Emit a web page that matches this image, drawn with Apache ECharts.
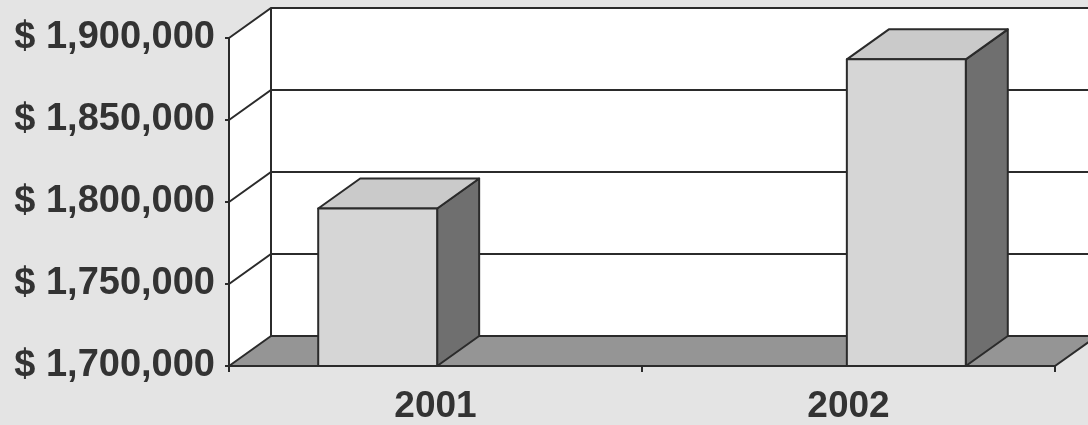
<!DOCTYPE html>
<html>
<head>
<meta charset="utf-8">
<script src="https://cdn.jsdelivr.net/npm/echarts@6/dist/echarts.min.js"></script>
<style>
  html, body { margin: 0; padding: 0; background: #e4e4e4; }
  #chart { width: 1088px; height: 425px; }
</style>
</head>
<body>
<div id="chart"></div>
<script>
// values
var years = ['2001', '2002'];
var revenue = [1796000, 1887000];
var yTicks = [1700000, 1750000, 1800000, 1850000, 1900000];

// 3d look
var depthX = 42, depthY = -30;
var spread = 1.28;   // bars pushed outwards like the perspective view
var barRatio = 0.288;
var lineCol = '#2b2b2b';

function money(v) {
  return '$ ' + v.toString().replace(/\B(?=(\d{3})+(?!\d))/g, ',');
}

document.addEventListener('DOMContentLoaded', function () {
  var chart = echarts.init(document.getElementById('chart'));

  var walls = function (params, api) {
    var cs = params.coordSys;
    var x0 = cs.x, x1 = cs.x + cs.width;
    var yb = api.coord([0, yTicks[0]])[1];
    var yt = api.coord([0, yTicks[yTicks.length - 1]])[1];
    var kids = [];
    // left wall
    kids.push({type: 'polygon', shape: {points: [[x0, yb], [x0, yt], [x0 + depthX, yt + depthY], [x0 + depthX, yb + depthY]]},
      style: {fill: '#ffffff', stroke: null}});
    // back wall
    kids.push({type: 'polygon', shape: {points: [[x0 + depthX, yt + depthY], [x1 + depthX, yt + depthY], [x1 + depthX, yb + depthY], [x0 + depthX, yb + depthY]]},
      style: {fill: '#ffffff', stroke: null}});
    // grid lines on both walls
    yTicks.forEach(function (t, i) {
      if (i == 0) return;
      var y = api.coord([0, t])[1];
      kids.push({type: 'polyline', shape: {points: [[x0, y], [x0 + depthX, y + depthY], [x1 + depthX, y + depthY]]},
        style: {stroke: lineCol, lineWidth: 2, fill: null}});
    });
    kids.push({type: 'line', shape: {x1: x0 + depthX, y1: yt + depthY, x2: x0 + depthX, y2: yb + depthY},
      style: {stroke: lineCol, lineWidth: 2}});
    // floor
    kids.push({type: 'polygon', shape: {points: [[x0, yb], [x1, yb], [x1 + depthX, yb + depthY], [x0 + depthX, yb + depthY]]},
      style: {fill: '#959595', stroke: lineCol, lineWidth: 2, lineJoin: 'round'}});
    return {type: 'group', children: kids};
  };

  var bars = function (params, api) {
    var cs = params.coordSys;
    var mid = cs.x + cs.width / 2;
    var top = api.coord([api.value(0), api.value(1)]);
    var base = api.coord([api.value(0), yTicks[0]]);
    var band = api.size([1, 0])[0];
    var cx = mid + (top[0] - mid) * spread;
    var w = band * barRatio;
    var xl = cx - w / 2, xr = cx + w / 2, ty = top[1], by = base[1];
    var st = {stroke: lineCol, lineWidth: 2, lineJoin: 'round'};
    return {type: 'group', children: [
      {type: 'polygon', shape: {points: [[xr, ty], [xr + depthX, ty + depthY], [xr + depthX, by + depthY], [xr, by]]},
        style: Object.assign({fill: '#6f6f6f'}, st)},
      {type: 'polygon', shape: {points: [[xl, ty], [xl + depthX, ty + depthY], [xr + depthX, ty + depthY], [xr, ty]]},
        style: Object.assign({fill: '#cacaca'}, st)},
      {type: 'rect', shape: {x: xl, y: ty, width: w, height: by - ty},
        style: Object.assign({fill: '#d6d6d6'}, st)}
    ]};
  };

  var option = {
    backgroundColor: '#e4e4e4',
    animation: false,
    grid: {left: 229, top: 38, right: 33, bottom: 57},
    xAxis: {
      type: 'category',
      data: years,
      z: 10,
      axisLine: {show: true, lineStyle: {color: lineCol, width: 2}},
      axisTick: {show: true, length: 6, lineStyle: {color: lineCol, width: 2}},
      axisLabel: {margin: 22, fontSize: 37, fontWeight: 'bold', color: '#333333',
        fontFamily: 'Liberation Sans, Arial, sans-serif'},
      splitLine: {show: false}
    },
    yAxis: {
      type: 'value',
      min: yTicks[0],
      max: yTicks[yTicks.length - 1],
      interval: 50000,
      z: 10,
      axisLine: {show: true, lineStyle: {color: lineCol, width: 2}},
      axisTick: {show: true, length: 4, lineStyle: {color: lineCol, width: 2}},
      axisLabel: {margin: 14, fontSize: 38, fontWeight: 'bold', color: '#333333', padding: [9, 0, 0, 0],
        fontFamily: 'Liberation Sans, Arial, sans-serif', formatter: money},
      splitLine: {show: false}
    },
    series: [
      {type: 'custom', name: 'walls', renderItem: walls, data: [[0, yTicks[0]]], z: 1, silent: true},
      {type: 'custom', name: 'revenue', renderItem: bars, data: revenue.map(function (v, i) { return [i, v]; }), z: 2}
    ]
  };
  chart.setOption(option);
});
</script>
</body>
</html>
